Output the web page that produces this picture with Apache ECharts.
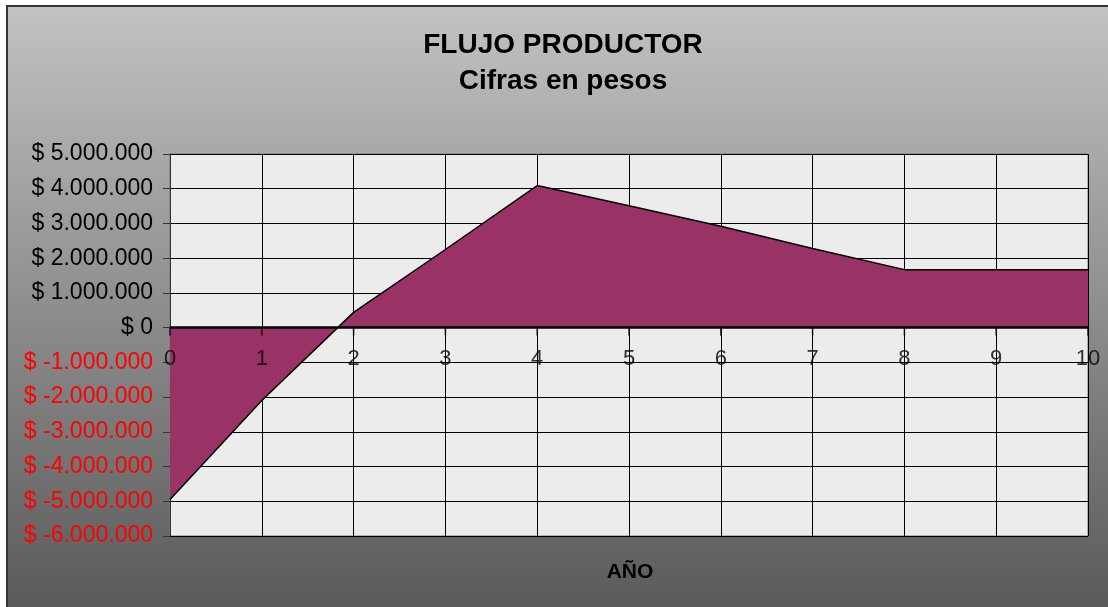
<!DOCTYPE html>
<html>
<head>
<meta charset="utf-8">
<script src="https://cdn.jsdelivr.net/npm/echarts@6/dist/echarts.min.js"></script>
<style>
  html, body { margin: 0; padding: 0; background: #fff; }
  #main { position: absolute; left: 6px; top: 5px; width: 1102px; height: 602px; border-left: 2px solid #333; border-top: 2px solid #333; box-sizing: border-box; }
</style>
</head>
<body>
<div id="main"></div>
<script>
  // datos del flujo
  var anios = [0, 1, 2, 3, 4, 5, 6, 7, 8, 9, 10];
  var flujo = [-4950000, -2100000, 440000, 2250000, 4090000, 3510000, 2920000, 2280000, 1670000, 1670000, 1670000];
  var yTicks = [5000000, 4000000, 3000000, 2000000, 1000000, 0, -1000000, -2000000, -3000000, -4000000, -5000000, -6000000];

  function pesos(v) {
    var s = String(Math.abs(v)).replace(/\B(?=(\d{3})+(?!\d))/g, '.');
    return '$ ' + (v < 0 ? '-' : '') + s;
  }

  var chart = echarts.init(document.getElementById('main'));
  chart.setOption({
    backgroundColor: new echarts.graphic.LinearGradient(0, 0, 0, 1, [
      { offset: 0, color: '#c2c2c2' },
      { offset: 1, color: '#5a5a5a' }
    ]),
    animation: false,
    title: [{
      text: 'FLUJO PRODUCTOR',
      subtext: 'Cifras en pesos',
      left: 550, top: 19, textAlign: 'center',
      itemGap: 8,
      textStyle: { fontFamily: 'Liberation Sans', fontSize: 28, fontWeight: 'bold', color: '#000' },
      subtextStyle: { fontFamily: 'Liberation Sans', fontSize: 28, fontWeight: 'bold', color: '#000' }
    }, {
      text: 'AÑO',
      left: 617, top: 550, textAlign: 'center',
      textStyle: { fontFamily: 'Liberation Sans', fontSize: 21, fontWeight: 'bold', color: '#000' }
    }],
    grid: { left: 162, right: 20, top: 147, bottom: 71, show: true, backgroundColor: '#ececec', borderColor: '#777', borderWidth: 1 },
    xAxis: {
      type: 'value', min: 0, max: 10, interval: 1,
      axisLine: { show: false },
      axisTick: { show: false },
      axisLabel: { show: false },
      splitLine: { show: true, lineStyle: { color: '#000', width: 1 } }
    },
    yAxis: {
      type: 'value', min: -6000000, max: 5000000, interval: 1000000,
      axisLine: { show: true, onZero: false, lineStyle: { color: '#333', width: 1 } },
      axisTick: { show: true, length: 7, lineStyle: { color: '#333' } },
      axisLabel: {
        margin: 17, fontFamily: 'Liberation Sans', fontSize: 23,
        formatter: function (v) { return yTicks.indexOf(v) >= 0 ? pesos(v) : ''; },
        color: function (v) { return Number(v) < 0 ? '#ff0000' : '#000'; }
      },
      splitLine: { show: true, lineStyle: { color: '#000', width: 1 } }
    },
    series: [{
      type: 'line',
      data: anios.map(function (a, i) { return [a, flujo[i]]; }),
      symbol: 'none',
      lineStyle: { color: '#000', width: 1.5 },
      areaStyle: { color: '#993366', opacity: 1, origin: 0 },
      markLine: {
        silent: true, symbol: 'none', label: { show: false },
        lineStyle: { color: '#000', width: 2.5, type: 'solid' },
        data: [{ yAxis: 0 }]
      }
    }, {
      // eje de años sobre el cero
      type: 'scatter',
      data: anios.map(function (a) { return [a, 0]; }),
      symbol: 'rect', symbolSize: [1.5, 8], symbolOffset: [0, 4],
      itemStyle: { color: '#000' },
      z: 5,
      label: {
        show: true, position: 'bottom', distance: 12,
        fontFamily: 'Liberation Sans', fontSize: 22, color: '#000',
        formatter: function (p) { return String(p.value[0]); }
      }
    }]
  });
</script>
</body>
</html>
